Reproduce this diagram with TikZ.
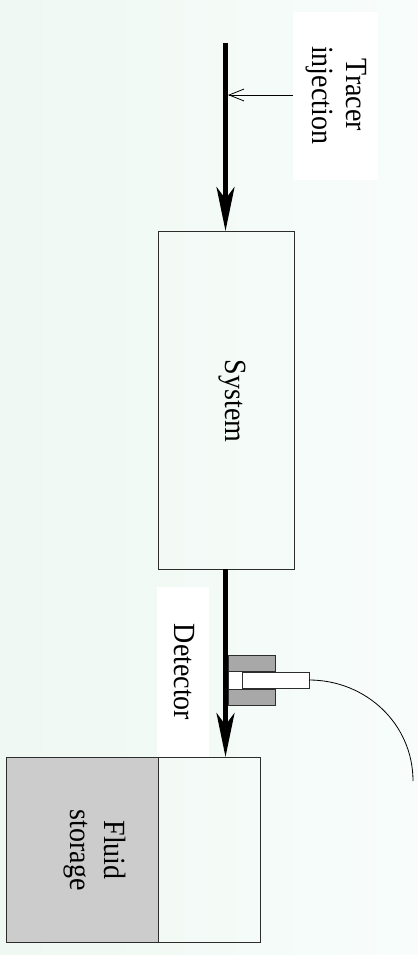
\documentclass[tikz,border=0pt]{standalone}
\usepackage{fontspec}
\setmainfont{Liberation Serif}
\usetikzlibrary{arrows.meta}
\definecolor{bgL}{RGB}{239,248,243}
\definecolor{bgR}{RGB}{248,253,251}
\definecolor{edge}{RGB}{45,45,45}
\definecolor{stor}{RGB}{204,204,204}
\definecolor{detgray}{RGB}{168,168,168}
\begin{document}
\begin{tikzpicture}[x=1pt,y=-1pt,
  box/.style={draw=edge, line width=1pt, inner sep=0pt, outer sep=0pt},
  plate/.style={fill=white, draw=none, inner sep=0pt, outer sep=0pt},
  lbl/.style={font=\fontsize{28}{31}\selectfont, align=center, rotate=-90, yscale=1.1, inner sep=0pt},
  flow/.style={line width=4.5pt, -{Stealth[length=44pt,width=18pt,inset=12pt]}},
  inj/.style={line width=0.8pt, -{Straight Barb[length=15pt,width=12pt]}},
  cable/.style={line width=0.8pt}
]
\shade[left color=bgL, right color=bgR] (0,0) rectangle (418,955);
\useasboundingbox (0,0) rectangle (418,955);

% label plates
\node[plate, minimum width=85pt, minimum height=168pt] (tracerbox) at (335.5,96) {};
\node[plate, minimum width=52pt, minimum height=170pt] (detbox) at (183,672) {};

% system
\node[box, minimum width=136pt, minimum height=338pt] (sys) at (226,400) {};
\node[lbl] (systxt) at (232,401) {System};

% storage
\node[box, fill=stor, minimum width=152pt, minimum height=185pt] (tank) at (82,849.5) {};
\node[box, minimum width=102pt, minimum height=185pt] (tankr) at (209,849.5) {};
\node[lbl] (fluidtxt) at (95,850) {Fluid\\storage};

% detector
\node[box, fill=detgray, minimum width=47pt, minimum height=16pt] (detA) at (251.5,663) {};
\node[box, fill=detgray, minimum width=47pt, minimum height=16pt] (detB) at (251.5,697) {};
\node[box, fill=white, minimum width=14pt, minimum height=18pt] (sleeve) at (235,680) {};
\node[box, fill=white, minimum width=67pt, minimum height=16pt] (probe) at (275.5,680) {};
\coordinate (cableend) at (413,781);
\draw[cable] (probe.east) .. controls (366,680) and (413,724) .. (cableend);

% labels
\node[lbl] (tracertxt) at (336,95) {Tracer\\injection};
\node[lbl] (dettxt) at (184,672) {Detector};

% flow
\coordinate (inlet) at (225.5,43);
\coordinate (injend) at (228,95);
\draw[flow] (inlet) -- (inlet |- sys.north);
\draw[flow] (inlet |- sys.south) -- (inlet |- tankr.north);
\draw[inj] (tracerbox.west |- injend) -- (injend);
\end{tikzpicture}
\end{document}
